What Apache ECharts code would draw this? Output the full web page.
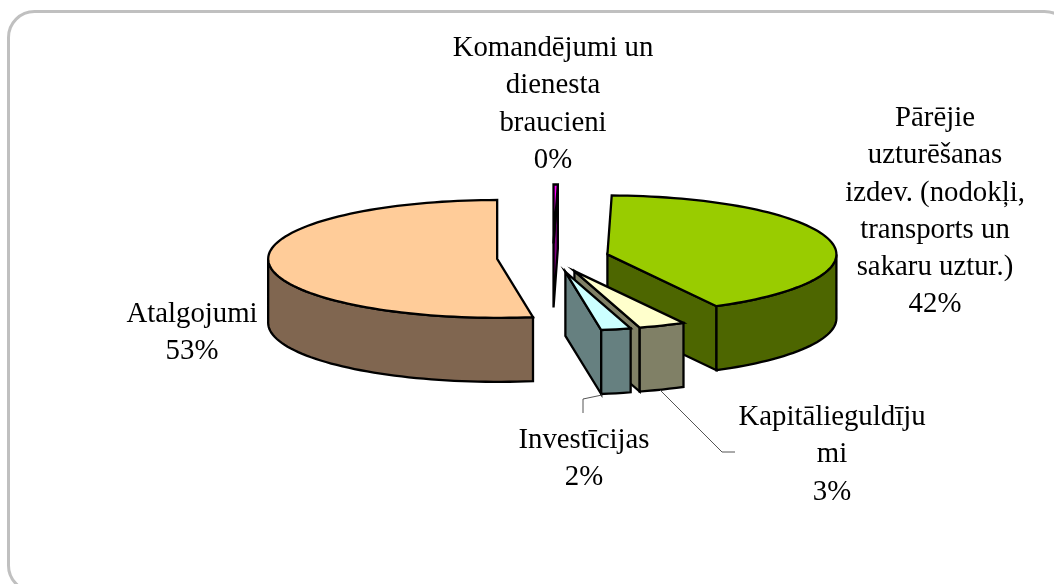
<!DOCTYPE html>
<html>
<head>
<meta charset="utf-8">
<style>html,body{margin:0;padding:0;background:#fff}#c{width:1054px;height:584px}</style>
<script src="https://cdn.jsdelivr.net/npm/echarts@6/dist/echarts.min.js"></script>
</head>
<body>
<div id="c"></div>
<script>
// Data, in drawing order (clockwise from 12 o'clock)
const categories = [
  'Komandējumi un\ndienesta\nbraucieni',
  'Pārējie\nuzturēšanas\nizdev. (nodokļi,\ntransports un\nsakaru uztur.)',
  'Kapitālieguldīju\nmi',
  'Investīcijas',
  'Atalgojumi'
];
const values = [0.3, 41.8, 3.3, 2.1, 52.5];

// Styles
const topColors  = ['#FF00FF', '#99CC00', '#FFFFCC', '#CCFFFF', '#FFCC99'];
const sideColors = ['#800080', '#4D6600', '#808066', '#668080', '#806650'];

// Layout
const labelCenters = [[553, 30], [935, 100], [832, 399], [584, 422], [192, 296]];
const leaders = [null, null,
  [[660, 390], [722, 452], [735, 452]],
  [[602, 395], [583, 399], [583, 413]],
  null];
const CX = 553, CY = 257.8, RX = 229, RY = 58.9, DEPTH = 64, EXPLODE = 56;
const FONT = '28.8px "Liberation Serif", "Times New Roman", serif';
const LINE = 37.2;

const total = values.reduce((a, b) => a + b, 0);
const rad = d => d * Math.PI / 180;

function renderItem(params, api) {
  const i = params.dataIndex;
  const v = api.value(0), start = api.value(1);
  const a0 = start, a1 = start + v / total * 360, mid = (a0 + a1) / 2;
  const ox = CX + EXPLODE * Math.sin(rad(mid));
  const oy = CY - EXPLODE * (RY / RX) * Math.cos(rad(mid));
  const pt = (a, dz) => [ox + RX * Math.sin(rad(a)), oy - RY * Math.cos(rad(a)) + dz];
  const arc = (from, to, dz) => {
    const n = Math.max(2, Math.ceil(Math.abs(to - from) / 2));
    const out = [];
    for (let k = 0; k <= n; k++) out.push(pt(from + (to - from) * k / n, dz));
    return out;
  };
  const children = [];
  const poly = (points, fill) => children.push({
    type: 'polygon', shape: { points },
    style: { fill, stroke: '#000', lineWidth: 2.3, lineJoin: 'miter' }, silent: true
  });
  const cut = a => poly([[ox, oy], pt(a, 0), pt(a, DEPTH), [ox, oy + DEPTH]], sideColors[i]);
  // cut faces turned towards the viewer
  if (Math.sin(rad(a0)) < 0) cut(a0);
  if (Math.sin(rad(a1)) > 0) cut(a1);
  // outer wall: only the part on the near half of the ellipse
  const w0 = Math.max(a0, 90), w1 = Math.min(a1, 270);
  if (w1 > w0) poly(arc(w0, w1, 0).concat(arc(w1, w0, DEPTH)), sideColors[i]);
  // top face
  poly([[ox, oy]].concat(arc(a0, a1, 0)), topColors[i]);
  // leader line
  if (leaders[i]) children.push({
    type: 'polyline', shape: { points: leaders[i] },
    style: { fill: null, stroke: '#555', lineWidth: 1 }, silent: true
  });
  // label
  children.push({
    type: 'text', silent: true,
    style: {
      text: categories[i] + '\n' + Math.round(v) + '%',
      x: labelCenters[i][0], y: labelCenters[i][1],
      align: 'center', verticalAlign: 'top',
      font: FONT, lineHeight: LINE, fill: '#000'
    }
  });
  return { type: 'group', children };
}

let acc = 0;
const seriesData = values.map((v, i) => {
  const s = acc / total * 360;
  acc += v;
  return { name: categories[i], value: [v, s] };
});

const chart = echarts.init(document.getElementById('c'), null, { renderer: 'canvas' });
chart.setOption({
  animation: false,
  backgroundColor: '#fff',
  graphic: [{
    type: 'rect', silent: true, z: -1,
    shape: { x: 8.5, y: 11.5, width: 1062, height: 580, r: 26 },
    style: { fill: '#fff', stroke: '#C0C0C0', lineWidth: 3 }
  }],
  series: [{
    type: 'custom',
    coordinateSystem: 'none',
    silent: true,
    renderItem,
    data: seriesData
  }]
});
</script>
</body>
</html>
